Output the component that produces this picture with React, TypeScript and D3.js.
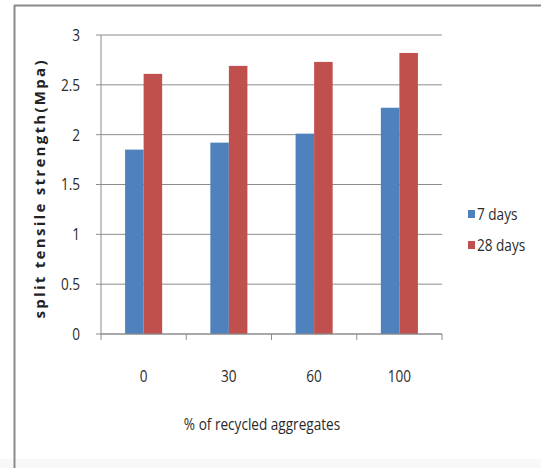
import React from "react";
import * as d3 from "d3";

const categories = ["0", "30", "60", "100"];
const seriesNames = ["7 days", "28 days"];
const days7 = [1.85, 1.92, 2.01, 2.27];
const days28 = [2.61, 2.69, 2.73, 2.82];
const yTicks = [0, 0.5, 1, 1.5, 2, 2.5, 3];
const colors = ["#4F81BD", "#C0504D"];

const W = 541;
const H = 468;
const plot = { left: 101, right: 442, top: 35, bottom: 334 };
const FONT = "'Open Sans', sans-serif";

// narrow label: horizontally condensed glyphs
function Narrow(props: {
  x: number;
  y: number;
  anchor?: "start" | "middle" | "end";
  size?: number;
  sx?: number;
  children: React.ReactNode;
}) {
  const { x, y, anchor = "start", size = 17, sx = 0.8, children } = props;
  return (
    <text
      transform={`translate(${x}, ${y}) scale(${sx}, 1)`}
      dy="0.35em"
      textAnchor={anchor}
      fontFamily={FONT}
      fontSize={size}
      fill="#2a2a2a"
    >
      {children}
    </text>
  );
}

export default function App() {
  const x = d3
    .scaleBand<string>()
    .domain(categories)
    .range([plot.left, plot.right])
    .paddingInner(0)
    .paddingOuter(0);
  const y = d3.scaleLinear().domain([0, 3]).range([plot.bottom, plot.top]);
  const inner = d3
    .scaleBand<string>()
    .domain(seriesNames)
    .range([0, x.bandwidth()])
    .paddingInner(0)
    .paddingOuter(1.3);

  const series = [days7, days28];
  const boundaries = d3.range(categories.length + 1).map((i) => plot.left + i * x.bandwidth());

  return (
    <svg
      width={W}
      height={H}
      style={{ position: "absolute", left: 0, top: 0, background: "#fff" }}
    >
      <rect x={0} y={459} width={W} height={9} fill="#f8f8f8" />
      <line x1={14.5} y1={5} x2={14.5} y2={H} stroke="#8a8a8a" strokeWidth={2} />
      <line x1={14} y1={5.5} x2={W} y2={5.5} stroke="#8a8a8a" strokeWidth={2} />

      {yTicks.map((t) => (
        <g key={t}>
          <line
            x1={plot.left - 5}
            x2={plot.right}
            y1={y(t)}
            y2={y(t)}
            stroke="#8c8c8c"
            strokeWidth={1}
          />
          <Narrow x={plot.left - 21} y={y(t)} anchor="end">
            {t}
          </Narrow>
        </g>
      ))}
      <line x1={plot.left} x2={plot.left} y1={plot.top} y2={plot.bottom} stroke="#8c8c8c" />

      {categories.map((c, i) =>
        series.map((vals, s) => (
          <rect
            key={c + s}
            x={(x(c) as number) + (inner(seriesNames[s]) as number)}
            y={y(vals[i])}
            width={inner.bandwidth()}
            height={y(0) - y(vals[i])}
            fill={colors[s]}
          />
        ))
      )}

      <line x1={plot.left} x2={plot.right} y1={plot.bottom} y2={plot.bottom} stroke="#8c8c8c" />
      {boundaries.map((bx, i) => (
        <line key={i} x1={bx} x2={bx} y1={plot.bottom} y2={plot.bottom + 6} stroke="#8c8c8c" />
      ))}

      {categories.map((c) => (
        <Narrow key={c} x={(x(c) as number) + x.bandwidth() / 2} y={376} anchor="middle">
          {c}
        </Narrow>
      ))}

      <Narrow x={262} y={424} anchor="middle" size={17} sx={0.8}>
        % of recycled aggregates
      </Narrow>

      <text
        transform={`translate(40, ${(plot.top + plot.bottom) / 2 + 5}) rotate(-90)`}
        dy="0.35em"
        textAnchor="middle"
        fontFamily={FONT}
        fontWeight="bold"
        fontSize={15}
        textLength={258}
        lengthAdjust="spacing"
        fill="#222"
      >
        split tensile strength(Mpa)
      </text>

      {seriesNames.map((n, s) => (
        <g key={n} transform={`translate(468, ${214 + s * 31})`}>
          <rect x={0} y={-4} width={7} height={8} fill={colors[s]} />
          <Narrow x={9} y={0}>
            {n}
          </Narrow>
        </g>
      ))}
    </svg>
  );
}
